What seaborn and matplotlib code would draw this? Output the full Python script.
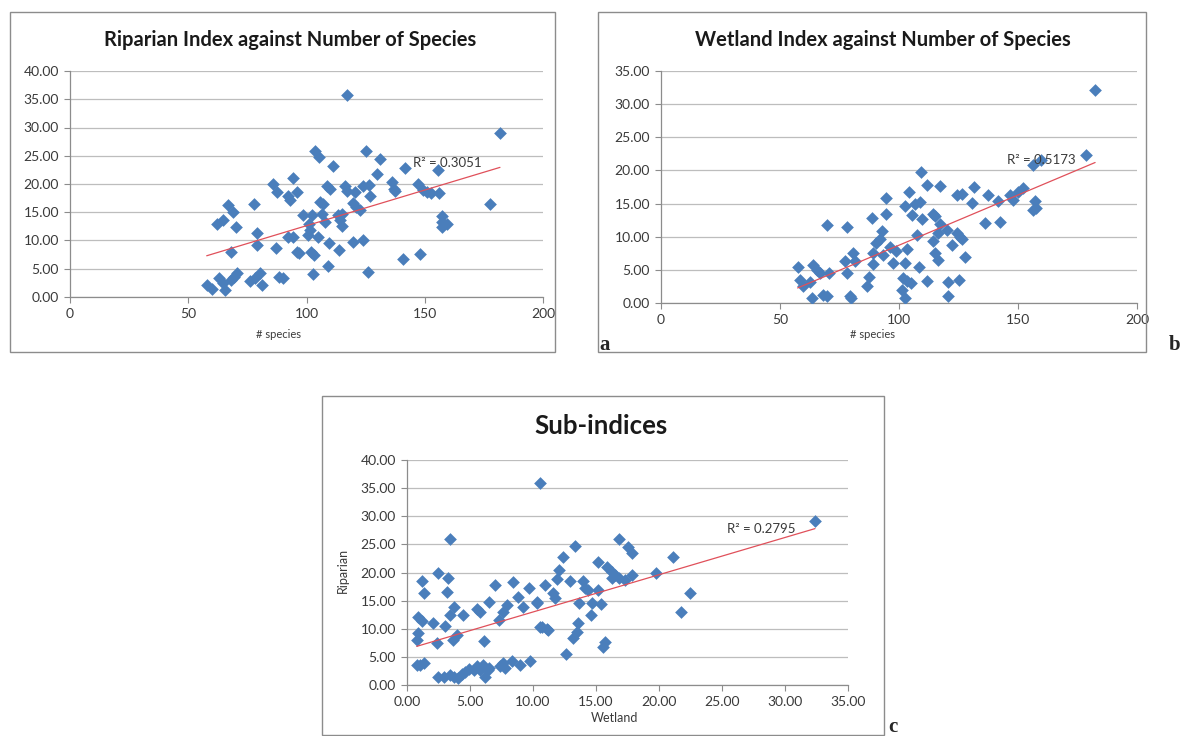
import numpy as np
import pandas as pd
import seaborn as sns
import matplotlib
matplotlib.use("Agg")
import matplotlib.pyplot as plt
from matplotlib.patches import Rectangle
from matplotlib.ticker import FormatStrFormatter, MultipleLocator

# ---------------- data ----------------
# Panel a: number of species vs riparian index
a_species = [57.8, 59.9, 62.0, 64.8, 63.1, 64.8, 65.5, 67.0, 69.0, 70.2, 68.0, 69.5, 70.5, 68.0,
             78.0, 79.0, 79.2, 78.2, 75.9, 80.3, 81.0, 86.0, 87.4, 87.0, 88.5, 90.0, 94.2, 92.0,
             93.0, 96.1, 92.3, 94.4, 95.8,
             117.0, 181.8, 103.6, 105.4, 125.2, 131.0, 111.3, 141.6, 155.7, 129.7, 108.5, 110.0,
             116.3, 117.0, 120.5, 124.0, 126.6, 136.0, 137.0, 137.5, 147.0, 149.4, 151.0, 152.5,
             156.2, 126.8, 105.7, 107.0, 119.8, 121.0, 122.6, 177.6, 98.7, 102.2, 106.4, 107.8,
             113.4, 115.0, 114.0, 114.9, 101.2, 101.5, 100.8, 105.0, 109.6, 119.8, 124.0, 157.2,
             157.2, 159.3, 157.5, 113.9, 97.0, 101.8, 103.0, 140.9, 148.0, 109.2, 102.9, 126.1]
a_riparian = [2.1, 1.5, 12.9, 13.6, 3.3, 2.5, 1.2, 16.3, 15.1, 12.4, 8.0, 3.6, 4.2, 3.0,
              16.4, 11.3, 9.2, 3.3, 2.9, 4.2, 2.1, 20.0, 18.6, 8.6, 3.6, 3.4, 21.0, 17.8,
              17.2, 18.5, 10.7, 10.7, 8.0,
              35.8, 29.1, 25.9, 24.8, 25.9, 24.5, 23.2, 22.8, 22.5, 21.8, 19.6, 19.2,
              19.6, 18.8, 18.6, 19.6, 19.8, 20.4, 19.2, 18.8, 20.0, 18.9, 18.6, 18.4,
              18.4, 17.8, 16.9, 16.5, 16.6, 16.0, 15.4, 16.5, 14.5, 14.5, 14.7, 13.3,
              14.5, 14.7, 13.6, 12.6, 13.0, 11.8, 11.0, 10.7, 9.6, 9.8, 10.1, 14.3,
              13.3, 12.9, 12.4, 8.4, 7.8, 8.0, 7.4, 6.8, 7.6, 5.4, 4.1, 4.4]

# Panel b: number of species vs wetland index
b_species = [57.4, 58.4, 59.8, 62.5, 64.0, 65.4, 67.0, 70.7, 69.6, 63.4, 68.2, 69.6, 78.3, 77.3,
             80.8, 81.5, 78.3, 79.4, 80.0, 88.5, 94.5, 94.5, 92.7, 90.3, 92.0, 89.2, 93.1, 88.9,
             97.4, 87.5, 86.4, 96.2, 98.7,
             182.4, 178.6, 159.5, 156.4, 109.1, 111.6, 117.2, 104.3, 124.2, 126.3, 131.6, 137.5,
             141.7, 146.6, 148.0, 150.1, 152.2, 130.5, 102.5, 106.7, 108.7, 105.3, 109.5, 114.4,
             115.0, 136.1, 142.4, 157.1, 156.2, 157.4, 117.2, 116.5, 120.0, 124.2, 125.6, 126.6,
             107.4, 114.4, 122.1, 103.2, 115.1, 116.5, 127.7, 102.5, 108.5, 101.8, 103.2, 105.0,
             101.1, 102.5, 111.6, 120.5, 125.3, 120.5]
b_wetland = [5.4, 3.5, 2.5, 3.2, 5.8, 5.0, 4.5, 4.5, 11.7, 0.75, 1.25, 1.0, 11.5, 6.3,
             7.5, 6.3, 4.5, 1.0, 0.75, 12.8, 15.9, 13.4, 10.9, 9.0, 9.6, 7.6, 7.3, 5.9,
             6.0, 3.9, 2.5, 8.5, 7.8,
             32.2, 22.3, 21.6, 20.8, 19.7, 17.8, 17.7, 16.8, 16.3, 16.4, 17.5, 16.3,
             15.4, 16.3, 15.5, 16.8, 17.3, 15.1, 14.6, 15.0, 15.2, 13.3, 12.6, 13.5,
             13.1, 12.0, 12.2, 15.4, 14.0, 14.4, 11.9, 10.5, 11.0, 10.6, 10.0, 9.6,
             10.3, 9.3, 8.8, 8.1, 7.5, 6.5, 6.9, 6.0, 5.5, 3.8, 3.3, 3.0,
             2.0, 0.75, 3.3, 3.1, 3.4, 1.1]

# Panel c: wetland vs riparian sub-indices
c_wetland = [10.56, 3.41, 2.49, 3.23, 3.15, 1.17, 1.35, 0.90, 1.17, 0.85, 0.77, 2.04, 3.02, 2.41,
             3.41, 3.73, 3.94, 3.68, 4.47, 5.53, 5.79, 6.53, 6.11, 6.98, 7.33, 7.60, 7.90, 8.44,
             8.83, 9.23, 9.68, 10.34, 10.69, 11.08, 10.95,
             0.77, 1.00, 1.35, 2.49, 2.90, 3.40, 3.70, 4.07, 4.40, 4.60, 4.90, 5.30, 5.53, 5.80,
             6.06, 6.40, 6.19, 6.50, 7.38, 7.60, 7.80, 8.30, 8.97, 9.76,
             16.85, 17.57, 17.83, 13.33, 12.36, 15.18, 21.08, 12.09, 11.88, 12.94, 15.85, 16.24,
             16.50, 16.24, 16.80, 17.30, 17.83, 19.76, 13.99, 14.13, 14.40, 15.18, 11.61, 11.75,
             10.29, 13.68, 14.66, 15.37, 14.58, 22.46, 21.72, 10.56, 11.21, 13.60, 13.47, 13.20,
             15.71, 15.53, 12.62, 32.38]
c_riparian = [35.9, 25.9, 19.9, 19.0, 16.6, 18.5, 16.3, 12.1, 11.3, 9.2, 8.0, 11.0, 10.5, 7.4,
              12.4, 13.9, 8.9, 8.0, 12.4, 13.6, 12.9, 14.7, 7.9, 17.8, 11.6, 12.9, 14.2, 18.4,
              15.7, 13.9, 17.2, 14.8, 10.4, 9.9, 17.8,
              3.6, 3.5, 4.0, 1.5, 1.5, 1.7, 1.5, 1.2, 1.9, 2.4, 2.9, 2.6, 3.3, 2.6,
              3.6, 2.6, 1.5, 3.0, 3.3, 4.0, 3.0, 4.3, 3.6, 4.3,
              25.9, 24.6, 23.4, 24.7, 22.8, 21.8, 22.7, 20.4, 18.8, 18.5, 21.0, 20.1,
              19.5, 19.0, 19.0, 18.7, 19.6, 19.9, 18.5, 17.2, 16.9, 16.9, 16.4, 15.4,
              14.6, 14.5, 14.5, 14.4, 12.4, 16.4, 13.0, 10.3, 9.8, 11.0, 9.5, 8.3,
              7.7, 6.7, 5.5, 29.2]

r2_labels = ["R\u00b2 = 0.3051", "R\u00b2 = 0.5173", "R\u00b2 = 0.2795"]
titles = ["Riparian Index against Number of Species",
          "Wetland Index against Number of Species",
          "Sub-indices"]

# ---------------- styling ----------------
sns.set_theme(style="white")
plt.rcParams["font.family"] = ["Lato", "DejaVu Sans"]

W, H = 1188, 736
fig = plt.figure(figsize=(W / 100, H / 100), dpi=100)
fig.patch.set_facecolor("white")

BLUE = "#4A7EBB"
RED = "#E0505A"
GRID = "#BDBDBD"
TXT = "#3A3A3A"


def px_axes(x0, y0, x1, y1):
    return fig.add_axes([x0 / W, 1 - y1 / H, (x1 - x0) / W, (y1 - y0) / H])


def box(x0, y0, x1, y1):
    fig.patches.append(Rectangle((x0 / W, 1 - y1 / H), (x1 - x0) / W, (y1 - y0) / H,
                                 transform=fig.transFigure, fill=False,
                                 edgecolor="#8C8C8C", linewidth=1.0))


def style_axes(ax, xlim, ylim, xstep, ystep, xfmt, yfmt):
    ax.set_xlim(*xlim)
    ax.set_ylim(*ylim)
    ax.xaxis.set_major_locator(MultipleLocator(xstep))
    ax.yaxis.set_major_locator(MultipleLocator(ystep))
    ax.xaxis.set_major_formatter(FormatStrFormatter(xfmt))
    ax.yaxis.set_major_formatter(FormatStrFormatter(yfmt))
    ax.grid(axis="y", color=GRID, linewidth=0.9)
    ax.grid(axis="x", visible=False)
    for s in ["top", "right"]:
        ax.spines[s].set_visible(False)
    for s in ["left", "bottom"]:
        ax.spines[s].set_color("#8C8C8C")
        ax.spines[s].set_linewidth(0.9)
    ax.tick_params(axis="both", direction="out", length=4, width=0.8, color="#8C8C8C",
                   labelsize=10, labelcolor=TXT, pad=4)
    ax.tick_params(axis="y", left=True)
    ax.tick_params(axis="x", bottom=True)
    ax.set_xlabel("")
    ax.set_ylabel("")
    ax.set_facecolor("white")


def draw(ax, x, y):
    df = pd.DataFrame({"x": x, "y": y})
    sns.scatterplot(data=df, x="x", y="y", ax=ax, marker="D", s=42, color=BLUE,
                    linewidth=0, zorder=3)
    sns.regplot(data=df, x="x", y="y", ax=ax, scatter=False, ci=None, truncate=True,
                line_kws=dict(color=RED, linewidth=0.9, zorder=4))


SERIF = ["Liberation Serif", "DejaVu Serif"]

# Panel a
box(10, 12, 555, 352)
ax_a = px_axes(70, 71, 543, 297)
draw(ax_a, a_species, a_riparian)
style_axes(ax_a, (0, 200), (0, 40), 50, 5, "%d", "%.2f")
ax_a.text(145, 23.7, r2_labels[0], fontsize=9.5, color=TXT, va="center", ha="left", zorder=5)
fig.text(290 / W, 1 - 40 / H, titles[0], ha="center", va="center", fontsize=14.5,
         fontweight="bold", color="#1a1a1a")
fig.text(278 / W, 1 - 335 / H, "# species", ha="center", va="center", fontsize=8, color=TXT)
fig.text(605 / W, 1 - 345 / H, "a", ha="center", va="center", fontsize=15, fontweight="bold",
         family=SERIF)

# Panel b
box(598, 12, 1146, 352)
ax_b = px_axes(661, 71, 1137, 303)
draw(ax_b, b_species, b_wetland)
style_axes(ax_b, (0, 200), (0, 35), 50, 5, "%d", "%.2f")
ax_b.text(145.4, 21.6, r2_labels[1], fontsize=9.5, color=TXT, va="center", ha="left", zorder=5)
fig.text(883 / W, 1 - 40 / H, titles[1], ha="center", va="center", fontsize=14.5,
         fontweight="bold", color="#1a1a1a")
fig.text(872 / W, 1 - 335 / H, "# species", ha="center", va="center", fontsize=8, color=TXT)
fig.text(1175 / W, 1 - 345 / H, "b", ha="center", va="center", fontsize=15, fontweight="bold",
         family=SERIF)

# Panel c
box(322, 396, 884, 735)
ax_c = px_axes(407, 460, 848, 685)
draw(ax_c, c_wetland, c_riparian)
style_axes(ax_c, (0, 35), (0, 40), 5, 5, "%.2f", "%.2f")
ax_c.text(25.4, 27.7, r2_labels[2], fontsize=9.5, color=TXT, va="center", ha="left", zorder=5)
fig.text(601 / W, 1 - 426 / H, titles[2], ha="center", va="center", fontsize=18.5,
         fontweight="bold", color="#1a1a1a")
fig.text(615 / W, 1 - 718 / H, "Wetland", ha="center", va="center", fontsize=9, color=TXT)
fig.text(343 / W, 1 - 570 / H, "Riparian", ha="center", va="center", fontsize=9, color=TXT,
         rotation=90)
fig.text(893 / W, 1 - 727 / H, "c", ha="center", va="center", fontsize=15, fontweight="bold",
         family=SERIF)

fig.savefig("out.png", dpi=100, facecolor="white")
